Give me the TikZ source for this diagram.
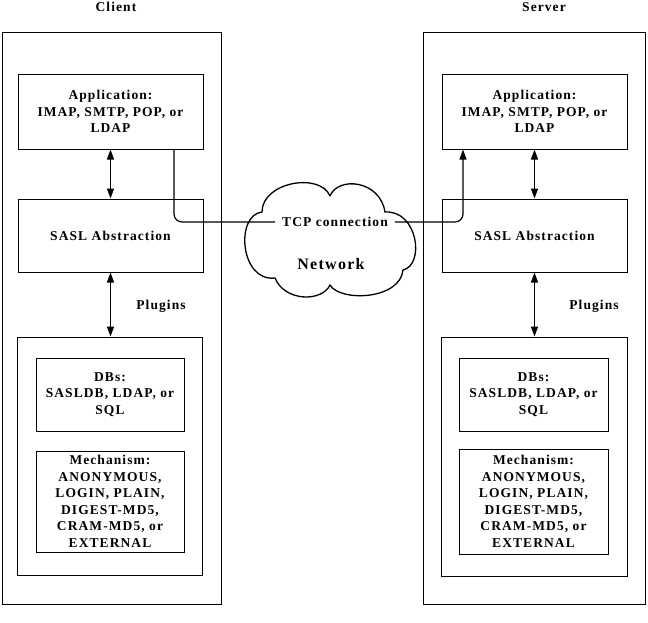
\documentclass[tikz,border=0pt]{standalone}
\usepackage{fontspec}
\setmainfont{Liberation Serif}[LetterSpace=8]
\usetikzlibrary{arrows.meta}
\tikzset{
  box/.style={draw, line width=1pt, align=center, inner sep=0pt},
  frame/.style={draw, line width=1pt},
  lbl/.style={font=\fontsize{13.5}{16.5}\selectfont\bfseries, align=center},
  tip/.style={-{Triangle[length=10pt,width=7pt]}},
  dtip/.style={{Triangle[length=10pt,width=7pt]}-{Triangle[length=10pt,width=7pt]}},
  conn/.style={line width=1.2pt},
}
\begin{document}
\begin{tikzpicture}[x=1pt,y=-1pt, every node/.style={font=\fontsize{13.5}{16.5}\selectfont\bfseries}]
\useasboundingbox (0,0) rectangle (648,622);
% outer frames
\draw[frame] (2,32) rectangle (221,604);
\draw[frame] (423,32) rectangle (645,604);
% titles
\node[lbl, anchor=base] (ctitle) at (116,11) {Client};
\node[lbl, anchor=base] (stitle) at (544,11) {Server};
% client boxes
\node[box, lbl, minimum width=185pt, minimum height=75pt] (capp) at (110.5,111.5) {Application:\\IMAP, SMTP, POP, or\\LDAP};
\node[box, lbl, minimum width=185pt, minimum height=73pt] (csasl) at (110.5,235.5) {SASL Abstraction};
\node[box, minimum width=185pt, minimum height=238pt] (cplug) at (109.5,456) {};
\node[box, lbl, minimum width=148pt, minimum height=73pt] (cdb) at (110,394.5) {DBs:\\SASLDB, LDAP, or\\SQL};
\node[box, lbl, minimum width=148pt, minimum height=101pt] (cmech) at (110,501.5) {Mechanism:\\ANONYMOUS,\\LOGIN, PLAIN,\\DIGEST-MD5,\\CRAM-MD5, or\\EXTERNAL};
\node[lbl] (cplugl) at (161,306) {Plugins};
% server boxes
\node[box, lbl, minimum width=185pt, minimum height=75pt] (sapp) at (534.5,111.5) {Application:\\IMAP, SMTP, POP, or\\LDAP};
\node[box, lbl, minimum width=185pt, minimum height=73pt] (ssasl) at (534.5,235.5) {SASL Abstraction};
\node[box, minimum width=186pt, minimum height=239pt] (splug) at (534,456.5) {};
\node[box, lbl, minimum width=149pt, minimum height=73pt] (sdb) at (533.5,394.5) {DBs:\\SASLDB, LDAP, or\\SQL};
\node[box, lbl, minimum width=149pt, minimum height=105pt] (smech) at (533.5,501.5) {Mechanism:\\ANONYMOUS,\\LOGIN, PLAIN,\\DIGEST-MD5,\\CRAM-MD5, or\\EXTERNAL};
\node[lbl] (splugl) at (594,306) {Plugins};
% cloud
\draw[line width=1.3pt] (330,196) .. controls (338,176) and (380,180) .. (385,212)
  .. controls (418,210) and (425,265) .. (403,270)
  .. controls (400,300) and (340,302) .. (330,285)
  .. controls (322,302) and (285,302) .. (275,278)
  .. controls (240,282) and (235,215) .. (262,212)
  .. controls (262,182) and (320,172) .. (330,196);
\node[lbl, inner xsep=7pt] (tcp) at (335,222) {TCP connection};
\node[lbl, font=\fontsize{16}{18}\selectfont\bfseries] (net) at (331,264) {Network};
% arrows
\draw[conn, dtip] (capp.south) -- (csasl.north);
\draw[conn, dtip] (csasl.south) -- (csasl.south |- cplug.north);
\draw[conn, dtip] (sapp.south) -- (ssasl.north);
\draw[conn, dtip] (ssasl.south) -- (ssasl.south |- splug.north);
% tcp connection
\draw[conn, rounded corners=8pt] ([xshift=63.5pt]capp.south) |- (tcp.west);
\draw[conn, tip, rounded corners=8pt] (tcp.east) -| ([xshift=-71.5pt]sapp.south);
\end{tikzpicture}
\end{document}
